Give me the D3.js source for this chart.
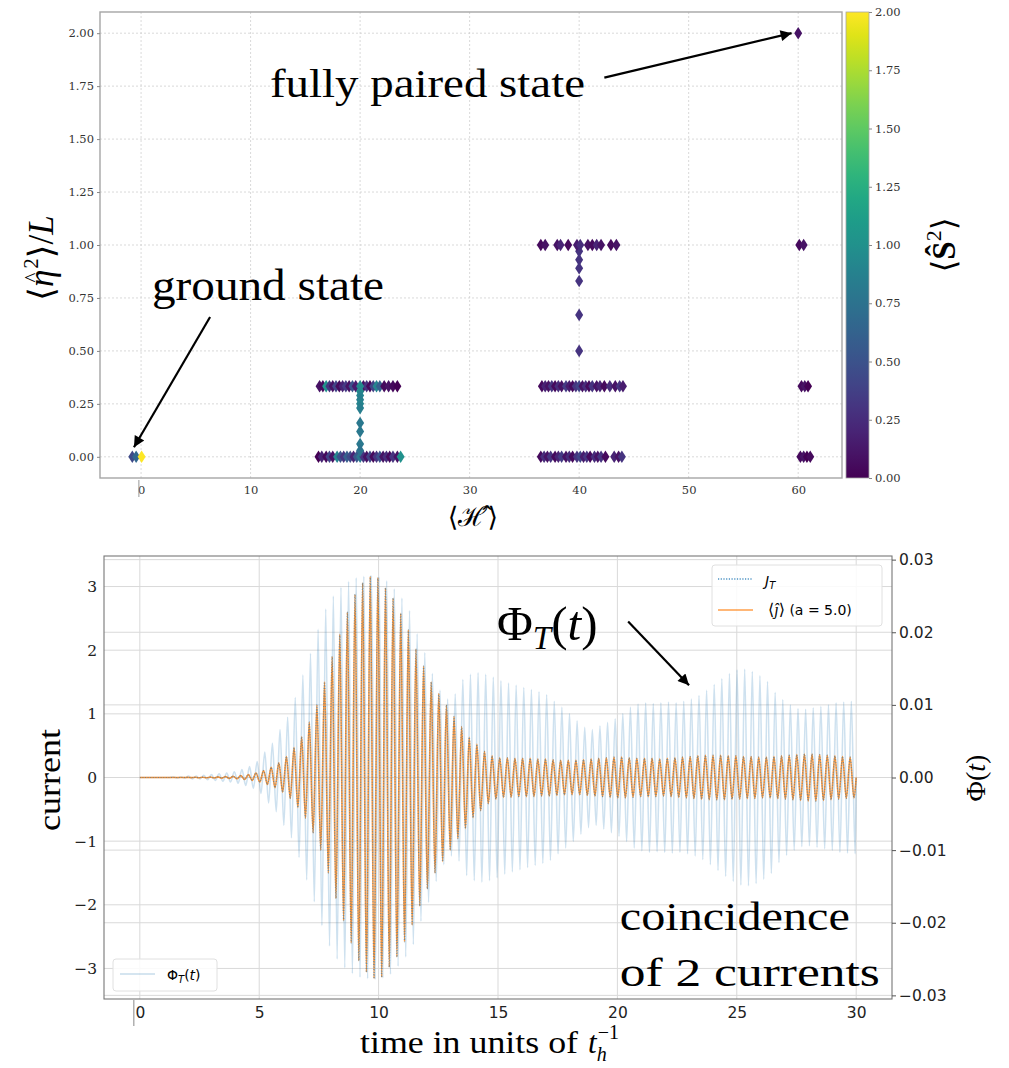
<!DOCTYPE html>
<html>
<head>
<meta charset="utf-8">
<script src="https://cdn.jsdelivr.net/npm/d3@7"></script>
<style>
  body { margin: 0; background: #fff; }
  svg { display: block; }
</style>
</head>
<body>
<svg id="fig" width="1009" height="1068"></svg>
<script>
// ---------------------------------------------------------------
// Top panel: eigenstates, [<H>, <eta^2>/L, <S^2>]
// ---------------------------------------------------------------
const groundState = [[-0.8, 0, 0.45], [-0.45, 0, 0.65], [0.05, 0, 2.0]];

const band20Upper = [
  [16.3, 0.333, 0.1], [16.6, 0.333, 0.05], [16.9, 0.333, 1.0], [17.2, 0.333, 0.3],
  [17.5, 0.333, 0.1], [17.8, 0.333, 0.4], [18.1, 0.333, 0.05], [18.4, 0.333, 0.2],
  [18.7, 0.333, 0.35], [19.0, 0.333, 0.1], [19.3, 0.333, 0.5], [19.6, 0.333, 0.15],
  [20.3, 0.333, 0.1], [20.6, 0.333, 0.3], [20.9, 0.333, 0.05], [21.2, 0.333, 0.4],
  [21.5, 0.333, 0.9], [21.8, 0.333, 0.6], [22.2, 0.333, 0.05], [22.6, 0.333, 0.1],
  [23.0, 0.333, 0.05], [23.4, 0.333, 0.0], [20.0, 0.333, 0.95]
];
const band20Lower = [
  [16.2, 0, 0.0], [16.5, 0, 0.2], [16.9, 0, 0.05], [17.2, 0, 0.4], [17.5, 0, 0.1],
  [17.9, 0, 0.9], [18.2, 0, 0.5], [18.5, 0, 0.3], [18.8, 0, 0.6], [19.1, 0, 0.45],
  [19.4, 0, 0.2], [19.7, 0, 0.55], [20.0, 0, 0.8], [20.3, 0, 0.3], [20.6, 0, 0.1],
  [20.9, 0, 0.4], [21.2, 0, 0.05], [21.5, 0, 0.3], [21.8, 0, 0.5], [22.1, 0, 0.1],
  [22.4, 0, 0.25], [22.7, 0, 0.05], [23.0, 0, 0.3], [23.4, 0, 0.1], [23.7, 0, 1.0]
];
const band20Stem = [
  [20.0, 0.31, 0.95], [20.0, 0.29, 0.9], [20.0, 0.27, 0.85], [20.0, 0.25, 0.9],
  [20.0, 0.23, 0.85], [20.0, 0.16, 0.8], [20.0, 0.12, 0.8], [20.0, 0.06, 0.8],
  [20.0, 0.03, 0.75]
];

const band40Top = [
  [36.5, 1, 0.05], [36.9, 1, 0.1], [38.0, 1, 0.1], [38.3, 1, 0.2], [39.0, 1, 0.05],
  [39.8, 1, 0.15], [40.1, 1, 0.25], [40.8, 1, 0.1], [41.2, 1, 0.05], [41.6, 1, 0.2],
  [42.0, 1, 0.1], [42.9, 1, 0.05], [43.4, 1, 0.1]
];
const band40Stem = [
  [40.0, 0.97, 0.3], [40.0, 0.93, 0.3], [40.0, 0.89, 0.3], [40.0, 0.83, 0.3],
  [40.0, 0.67, 0.3], [40.0, 0.5, 0.3]
];
const band40Mid = [
  [36.6, 0.333, 0.05], [36.9, 0.333, 0.2], [37.2, 0.333, 0.1], [37.5, 0.333, 0.3],
  [37.8, 0.333, 0.05], [38.1, 0.333, 0.25], [38.4, 0.333, 0.1], [38.8, 0.333, 0.35],
  [39.1, 0.333, 0.15], [39.4, 0.333, 0.05], [39.7, 0.333, 0.3], [40.0, 0.333, 0.4],
  [40.3, 0.333, 0.1], [40.6, 0.333, 0.25], [40.9, 0.333, 0.05], [41.2, 0.333, 0.3],
  [41.6, 0.333, 0.1], [41.9, 0.333, 0.2], [42.3, 0.333, 0.05], [42.8, 0.333, 0.25],
  [43.3, 0.333, 0.1], [43.7, 0.333, 0.3], [44.0, 0.333, 0.15]
];
const band40Low = [
  [36.5, 0, 0.05], [36.8, 0, 0.25], [37.1, 0, 0.1], [37.4, 0, 0.3], [37.8, 0, 0.05],
  [38.1, 0, 0.2], [38.4, 0, 0.35], [38.8, 0, 0.1], [39.1, 0, 0.25], [39.4, 0, 0.05],
  [39.8, 0, 0.3], [40.1, 0, 0.4], [40.4, 0, 0.15], [40.7, 0, 0.3], [41.0, 0, 0.05],
  [41.4, 0, 0.25], [41.7, 0, 0.1], [42.0, 0, 0.3], [42.4, 0, 0.05], [43.2, 0, 0.2],
  [43.6, 0, 0.1], [43.9, 0, 0.3]
];

const band60 = [
  [60.0, 2.0, 0.1], [60.1, 1, 0.05], [60.5, 1, 0.1],
  [60.3, 0.333, 0.05], [60.6, 0.333, 0.1], [60.9, 0.333, 0.0],
  [60.2, 0, 0.05], [60.5, 0, 0.1], [60.8, 0, 0.0], [61.1, 0, 0.05]
];

const energyTicks = [0, 10, 20, 30, 40, 50, 60];
const etaTicks = [0, 0.25, 0.5, 0.75, 1.0, 1.25, 1.5, 1.75, 2.0];
const spinTicks = [0, 0.25, 0.5, 0.75, 1.0, 1.25, 1.5, 1.75, 2.0];

// ---------------------------------------------------------------
// Bottom panel: currents, one amplitude per drive cycle
// ---------------------------------------------------------------
const period = 0.319;     // drive period in units of 1/t_h
const tEnd = 30;
const currentPeaks = [
  0, 0, 0, 0, 0, 0, 0.002, 0.003, 0.005, 0.007,
  0.01, 0.015, 0.02, 0.03, 0.045, 0.07, 0.11, 0.16, 0.23, 0.33,
  0.47, 0.64, 0.87, 1.14, 1.5, 1.9, 2.25, 2.6, 2.88, 3.06,
  3.16, 3.14, 2.98, 2.82, 2.58, 2.32, 2.02, 1.75, 1.5, 1.32,
  1.14, 0.96, 0.8, 0.63, 0.52, 0.41, 0.34, 0.31, 0.31, 0.30,
  0.30, 0.30, 0.29, 0.29, 0.28, 0.27, 0.27, 0.27, 0.28, 0.29,
  0.30, 0.31, 0.32, 0.32, 0.31, 0.30, 0.30, 0.30, 0.29, 0.30,
  0.31, 0.32, 0.33, 0.34, 0.35, 0.35, 0.35, 0.34, 0.34, 0.33,
  0.33, 0.32, 0.32, 0.33, 0.34, 0.35, 0.36, 0.37, 0.37, 0.36,
  0.35, 0.34, 0.33, 0.32
];
const phiPeaks = [
  0, 0, 0, 0, 0.0001, 0.0001, 0.0002, 0.0002, 0.0003, 0.0004,
  0.0005, 0.0006, 0.0008, 0.0011, 0.0015, 0.0022, 0.0035, 0.0047, 0.0066, 0.0083,
  0.011, 0.0141, 0.0171, 0.0204, 0.0232, 0.025, 0.0262, 0.027, 0.0275, 0.0277,
  0.0278, 0.0276, 0.0271, 0.026, 0.0247, 0.023, 0.0198, 0.0172, 0.0143, 0.012,
  0.0108, 0.0115, 0.0135, 0.0142, 0.0144, 0.0142, 0.0138, 0.0133, 0.013, 0.0127,
  0.0124, 0.0121, 0.0118, 0.0114, 0.0105, 0.0097, 0.0088, 0.0078, 0.0069, 0.0066,
  0.0071, 0.0076, 0.0081, 0.0088, 0.0097, 0.0101, 0.0103, 0.0102, 0.0103, 0.0104,
  0.0103, 0.0105, 0.0108, 0.0113, 0.012, 0.0128, 0.0136, 0.0143, 0.0148, 0.0149,
  0.0146, 0.014, 0.0132, 0.0117, 0.0107, 0.01, 0.0095, 0.0094, 0.0096, 0.0098,
  0.01, 0.0103, 0.0104, 0.0105
];
const phiPhase = 0.05;

const timeTicks = [0, 5, 10, 15, 20, 25, 30];
const currentTicks = [-3, -2, -1, 0, 1, 2, 3];
const phiTicks = [-0.03, -0.02, -0.01, 0, 0.01, 0.02, 0.03];

// ---------------------------------------------------------------
const SERIF = "'Liberation Serif', 'DejaVu Serif', serif";
const TICK_SERIF = "'DejaVu Serif', serif";
const SANS = "'DejaVu Sans', sans-serif";
const C_BLUE = '#1f77b4';
const C_ORANGE = '#ff7f0e';

const svg = d3.select('#fig');
svg.append('rect').attr('width', 1009).attr('height', 1068).attr('fill', '#fff');

const defs = svg.append('defs');
defs.append('marker')
  .attr('id', 'head')
  .attr('viewBox', '0 0 10 10')
  .attr('refX', 10).attr('refY', 5)
  .attr('markerWidth', 16).attr('markerHeight', 11)
  .attr('markerUnits', 'userSpaceOnUse')
  .attr('orient', 'auto')
  .append('path').attr('d', 'M0,0 L10,5 L0,10 z').attr('fill', '#000');

function arrow(g, x1, y1, x2, y2) {
  g.append('line')
    .attr('x1', x1).attr('y1', y1).attr('x2', x2).attr('y2', y2)
    .attr('stroke', '#000').attr('stroke-width', 2.2)
    .attr('marker-end', 'url(#head)');
}

// ===================== TOP PANEL =====================
function drawTop() {
  const box = { left: 100, right: 842, top: 12, bottom: 478 };
  const x = d3.scaleLinear().domain([-3.75, 64]).range([box.left, box.right]);
  const y = d3.scaleLinear().domain([-0.1, 2.1]).range([box.bottom, box.top]);
  const color = s => d3.interpolateViridis(s / 2);
  const g = svg.append('g');

  // grid
  g.append('g').selectAll('line').data(energyTicks).join('line')
    .attr('x1', d => x(d)).attr('x2', d => x(d))
    .attr('y1', box.top).attr('y2', box.bottom)
    .attr('stroke', '#cfcfcf').attr('stroke-width', 0.8).attr('stroke-dasharray', '2,2');
  g.append('g').selectAll('line').data(etaTicks).join('line')
    .attr('x1', box.left).attr('x2', box.right)
    .attr('y1', d => y(d)).attr('y2', d => y(d))
    .attr('stroke', '#cfcfcf').attr('stroke-width', 0.8).attr('stroke-dasharray', '2,2');

  // points (thin diamonds)
  const states = [].concat(groundState, band20Lower, band20Upper, band20Stem,
    band40Low, band40Mid, band40Stem, band40Top, band60);
  g.append('g').selectAll('path').data(states).join('path')
    .attr('d', 'M0,-6.3 L4,0 L0,6.3 L-4,0 Z')
    .attr('transform', d => `translate(${x(d[0])},${y(d[1])})`)
    .attr('fill', d => color(d[2]));

  // spines
  g.append('rect')
    .attr('x', box.left).attr('y', box.top)
    .attr('width', box.right - box.left).attr('height', box.bottom - box.top)
    .attr('fill', 'none').attr('stroke', '#a5a5a5').attr('stroke-width', 1.4);

  // axes
  const yAxis = g.append('g').attr('transform', `translate(${box.left},0)`)
    .call(d3.axisLeft(y).tickValues(etaTicks).tickFormat(d3.format('.2f')).tickSize(3).tickPadding(3));
  const xAxis = g.append('g').attr('transform', `translate(0,${box.bottom})`)
    .call(d3.axisBottom(x).tickValues(energyTicks).tickSize(0).tickPadding(8));
  [yAxis, xAxis].forEach(a => {
    a.select('.domain').remove();
    a.selectAll('.tick line').attr('stroke', '#888');
    a.selectAll('.tick text').attr('font-family', TICK_SERIF).attr('font-size', 11.5).attr('fill', '#333');
  });
  g.append('line').attr('x1', x(-0.2)).attr('x2', x(-0.2)).attr('y1', box.bottom + 2).attr('y2', box.bottom + 19)
    .attr('stroke', '#999').attr('stroke-width', 1);

  // colorbar
  const cb = { left: 846, right: 869 };
  const cy = d3.scaleLinear().domain([0, 2]).range([box.bottom, box.top]);
  const grad = defs.append('linearGradient').attr('id', 'viridis')
    .attr('x1', 0).attr('x2', 0).attr('y1', 1).attr('y2', 0);
  d3.range(0, 1.0001, 0.05).forEach(t => {
    grad.append('stop').attr('offset', t).attr('stop-color', d3.interpolateViridis(t));
  });
  g.append('rect').attr('x', cb.left).attr('y', box.top)
    .attr('width', cb.right - cb.left).attr('height', box.bottom - box.top)
    .attr('fill', 'url(#viridis)').attr('stroke', '#a5a5a5').attr('stroke-width', 0.8);
  const cAxis = g.append('g').attr('transform', `translate(${cb.right},0)`)
    .call(d3.axisRight(cy).tickValues(spinTicks).tickFormat(d3.format('.2f')).tickSize(3).tickPadding(3));
  cAxis.select('.domain').remove();
  cAxis.selectAll('.tick line').attr('stroke', '#888');
  cAxis.selectAll('.tick text').attr('font-family', TICK_SERIF).attr('font-size', 11.5).attr('fill', '#333');

  // axis labels
  const yl = g.append('text').attr('transform', 'translate(53,258) rotate(-90)')
    .attr('text-anchor', 'middle').attr('font-family', SERIF).attr('font-size', 35);
  yl.append('tspan').text('⟨');
  yl.append('tspan').attr('font-style', 'italic').text('η');
  yl.append('tspan').attr('font-size', 21).attr('dx', -13).attr('dy', -14).text('^');
  yl.append('tspan').attr('font-size', 21).attr('dx', 4).attr('dy', -1).text('2');
  yl.append('tspan').attr('dy', 15).text('⟩/');
  yl.append('tspan').attr('font-style', 'italic').text('L');

  const xl = g.append('text').attr('x', x(30.3)).attr('y', 526)
    .attr('text-anchor', 'middle').attr('font-family', SERIF).attr('font-size', 27);
  xl.append('tspan').text('⟨');
  xl.append('tspan').attr('font-family', "'DejaVu Serif', serif").text('ℋ̂');
  xl.append('tspan').text('⟩');

  const cl = g.append('text').attr('transform', 'translate(955,245) rotate(-90)')
    .attr('text-anchor', 'middle').attr('font-family', SERIF).attr('font-size', 33);
  cl.append('tspan').text('⟨');
  cl.append('tspan').attr('font-weight', 'bold').text('Ŝ');
  cl.append('tspan').attr('font-size', 22).attr('dy', -14).text('2');
  cl.append('tspan').attr('dy', 14).text('⟩');

  // annotations
  g.append('text').attr('x', x(11.77)).attr('y', y(1.7))
    .attr('font-family', SERIF).attr('font-size', 40)
    .attr('textLength', 315).attr('lengthAdjust', 'spacingAndGlyphs')
    .text('fully paired state');
  arrow(g, x(42.3), y(1.79), x(59.4), y(2.0));

  g.append('text').attr('x', x(1.0)).attr('y', y(0.74))
    .attr('font-family', SERIF).attr('font-size', 44)
    .attr('textLength', 232).attr('lengthAdjust', 'spacingAndGlyphs')
    .text('ground state');
  arrow(g, x(6.3), y(0.66), x(-0.65), y(0.045));
}

// ===================== BOTTOM PANEL =====================
function oscillation(peaks, phase) {
  const pts = [[0, 0]];
  peaks.forEach((a, k) => {
    pts.push([(k + 0.25) * period + phase, a]);
    pts.push([(k + 0.75) * period + phase, -a]);
  });
  pts.push([tEnd, 0]);
  return pts;
}

function drawBottom() {
  const box = { left: 104, right: 892, top: 556, bottom: 999 };
  const x = d3.scaleLinear().domain([-1.5, 31.5]).range([box.left, box.right]);
  const yL = d3.scaleLinear().domain([-3.48, 3.48]).range([box.bottom, box.top]);
  const yR = d3.scaleLinear().domain([-0.0305, 0.0305]).range([box.bottom, box.top]);
  const g = svg.append('g');

  const grid = g.append('g').attr('stroke', '#d9d9d9').attr('stroke-width', 1);
  grid.selectAll('.gx').data(timeTicks).join('line')
    .attr('x1', d => x(d)).attr('x2', d => x(d)).attr('y1', box.top).attr('y2', box.bottom);
  grid.selectAll('.gl').data(currentTicks).join('line')
    .attr('x1', box.left).attr('x2', box.right).attr('y1', d => yL(d)).attr('y2', d => yL(d));
  grid.selectAll('.gr').data(phiTicks).join('line')
    .attr('x1', box.left).attr('x2', box.right).attr('y1', d => yR(d)).attr('y2', d => yR(d));

  const clip = defs.append('clipPath').attr('id', 'clipB');
  clip.append('rect').attr('x', box.left).attr('y', box.top)
    .attr('width', box.right - box.left).attr('height', box.bottom - box.top);
  const plot = g.append('g').attr('clip-path', 'url(#clipB)');

  const lineR = d3.line().x(d => x(d[0])).y(d => yR(d[1])).curve(d3.curveMonotoneX);
  const lineL = d3.line().x(d => x(d[0])).y(d => yL(d[1])).curve(d3.curveMonotoneX);

  plot.append('path').attr('d', lineR(oscillation(phiPeaks, phiPhase)))
    .attr('fill', 'none').attr('stroke', C_BLUE).attr('stroke-opacity', 0.22).attr('stroke-width', 1.6);
  const cur = oscillation(currentPeaks, 0);
  plot.append('path').attr('d', lineL(cur))
    .attr('fill', 'none').attr('stroke', C_ORANGE).attr('stroke-opacity', 0.8).attr('stroke-width', 1.6);
  plot.append('path').attr('d', lineL(cur))
    .attr('fill', 'none').attr('stroke', C_BLUE).attr('stroke-opacity', 0.55)
    .attr('stroke-width', 1.2).attr('stroke-dasharray', '1,1.6');

  g.append('rect').attr('x', box.left).attr('y', box.top)
    .attr('width', box.right - box.left).attr('height', box.bottom - box.top)
    .attr('fill', 'none').attr('stroke', '#777').attr('stroke-width', 1.1);

  const aL = g.append('g').attr('transform', `translate(${box.left},0)`)
    .call(d3.axisLeft(yL).tickValues(currentTicks).tickFormat(d3.format('d')).tickSize(0).tickPadding(7));
  aL.selectAll('.tick text').attr('font-family', TICK_SERIF).attr('font-size', 15.5);
  const aR = g.append('g').attr('transform', `translate(${box.right},0)`)
    .call(d3.axisRight(yR).tickValues(phiTicks).tickFormat(d3.format('.2f')).tickSize(4).tickPadding(3));
  aR.selectAll('.tick text').attr('font-family', SANS).attr('font-size', 15.5);
  const aB = g.append('g').attr('transform', `translate(0,${box.bottom})`)
    .call(d3.axisBottom(x).tickValues(timeTicks).tickSize(0).tickPadding(8));
  aB.selectAll('.tick text').attr('font-family', SANS).attr('font-size', 15.5);
  [aL, aR, aB].forEach(a => {
    a.select('.domain').remove();
    a.selectAll('.tick line').attr('stroke', '#555');
    a.selectAll('.tick text').attr('fill', '#222');
  });
  g.append('line').attr('x1', x(-0.25)).attr('x2', x(-0.25)).attr('y1', box.bottom + 1).attr('y2', box.bottom + 27)
    .attr('stroke', '#888').attr('stroke-width', 1);

  // axis labels
  g.append('text').attr('transform', 'translate(60,780) rotate(-90)')
    .attr('text-anchor', 'middle').attr('font-family', SERIF).attr('font-size', 32)
    .attr('textLength', 102).attr('lengthAdjust', 'spacingAndGlyphs')
    .text('current');
  const pl = g.append('text').attr('transform', 'translate(985,778) rotate(-90)')
    .attr('text-anchor', 'middle').attr('font-family', SERIF).attr('font-size', 28);
  pl.append('tspan').text('Φ(');
  pl.append('tspan').attr('font-style', 'italic').text('t');
  pl.append('tspan').text(')');

  const tl = g.append('text').attr('x', 360).attr('y', 1053)
    .attr('font-family', SERIF).attr('font-size', 31);
  tl.append('tspan').attr('textLength', 218).attr('lengthAdjust', 'spacingAndGlyphs').text('time in units of');
  tl.append('tspan').attr('font-style', 'italic').attr('dx', 10).text('t');
  tl.append('tspan').attr('font-style', 'italic').attr('font-size', 20).attr('dy', 8).text('h');
  tl.append('tspan').attr('font-size', 20).attr('dy', -22).attr('dx', -9).text('−1');

  // annotations
  const phiText = g.append('text').attr('x', x(14.96)).attr('y', yL(2.16))
    .attr('font-family', SERIF).attr('font-size', 49);
  phiText.append('tspan').text('Φ');
  phiText.append('tspan').attr('font-style', 'italic').attr('font-size', 33).attr('dy', 9).text('T');
  phiText.append('tspan').attr('dy', -9).text('(');
  phiText.append('tspan').attr('font-style', 'italic').text('t');
  phiText.append('tspan').text(')');
  arrow(g, x(20.45), yL(2.45), x(23.0), yL(1.45));

  g.append('text').attr('x', x(20.1)).attr('y', yL(-2.4))
    .attr('font-family', SERIF).attr('font-size', 40)
    .attr('textLength', 230).attr('lengthAdjust', 'spacingAndGlyphs')
    .text('coincidence');
  g.append('text').attr('x', x(20.1)).attr('y', yL(-3.28))
    .attr('font-family', SERIF).attr('font-size', 40)
    .attr('textLength', 260).attr('lengthAdjust', 'spacingAndGlyphs')
    .text('of 2 currents');

  // legends
  const lg1 = g.append('g');
  lg1.append('rect').attr('x', 712).attr('y', 565).attr('width', 170).attr('height', 61)
    .attr('rx', 3).attr('fill', '#fff').attr('fill-opacity', 0.85).attr('stroke', '#e0e0e0');
  lg1.append('line').attr('x1', 718).attr('x2', 753).attr('y1', 579).attr('y2', 579)
    .attr('stroke', C_BLUE).attr('stroke-opacity', 0.8).attr('stroke-width', 1.5).attr('stroke-dasharray', '1.2,1.5');
  const j1 = lg1.append('text').attr('x', 765).attr('y', 586).attr('font-family', SANS).attr('font-size', 14);
  j1.append('tspan').attr('font-style', 'italic').text('J');
  j1.append('tspan').attr('font-style', 'italic').attr('font-size', 10).attr('dy', 3).text('T');
  lg1.append('line').attr('x1', 718).attr('x2', 753).attr('y1', 610).attr('y2', 610)
    .attr('stroke', C_ORANGE).attr('stroke-opacity', 0.75).attr('stroke-width', 1.5);
  const j2 = lg1.append('text').attr('x', 768).attr('y', 615).attr('font-family', SANS).attr('font-size', 14);
  j2.append('tspan').attr('font-family', SERIF).attr('font-size', 16).text('⟨');
  j2.append('tspan').attr('font-family', SERIF).attr('font-style', 'italic').attr('font-size', 16).text('ĵ');
  j2.append('tspan').attr('font-family', SERIF).attr('font-size', 16).text('⟩');
  j2.append('tspan').text(' (a = 5.0)');

  const lg2 = g.append('g');
  lg2.append('rect').attr('x', 113).attr('y', 959).attr('width', 104).attr('height', 32)
    .attr('rx', 3).attr('fill', '#fff').attr('fill-opacity', 0.85).attr('stroke', '#e0e0e0');
  lg2.append('line').attr('x1', 120).attr('x2', 155).attr('y1', 974).attr('y2', 974)
    .attr('stroke', C_BLUE).attr('stroke-opacity', 0.25).attr('stroke-width', 1.6);
  const p2 = lg2.append('text').attr('x', 167).attr('y', 980).attr('font-family', SANS).attr('font-size', 14);
  p2.append('tspan').text('Φ');
  p2.append('tspan').attr('font-style', 'italic').attr('font-size', 10).attr('dy', 3).text('T');
  p2.append('tspan').attr('dy', -3).text('(');
  p2.append('tspan').attr('font-style', 'italic').text('t');
  p2.append('tspan').text(')');
}

drawTop();
drawBottom();
</script>
</body>
</html>
